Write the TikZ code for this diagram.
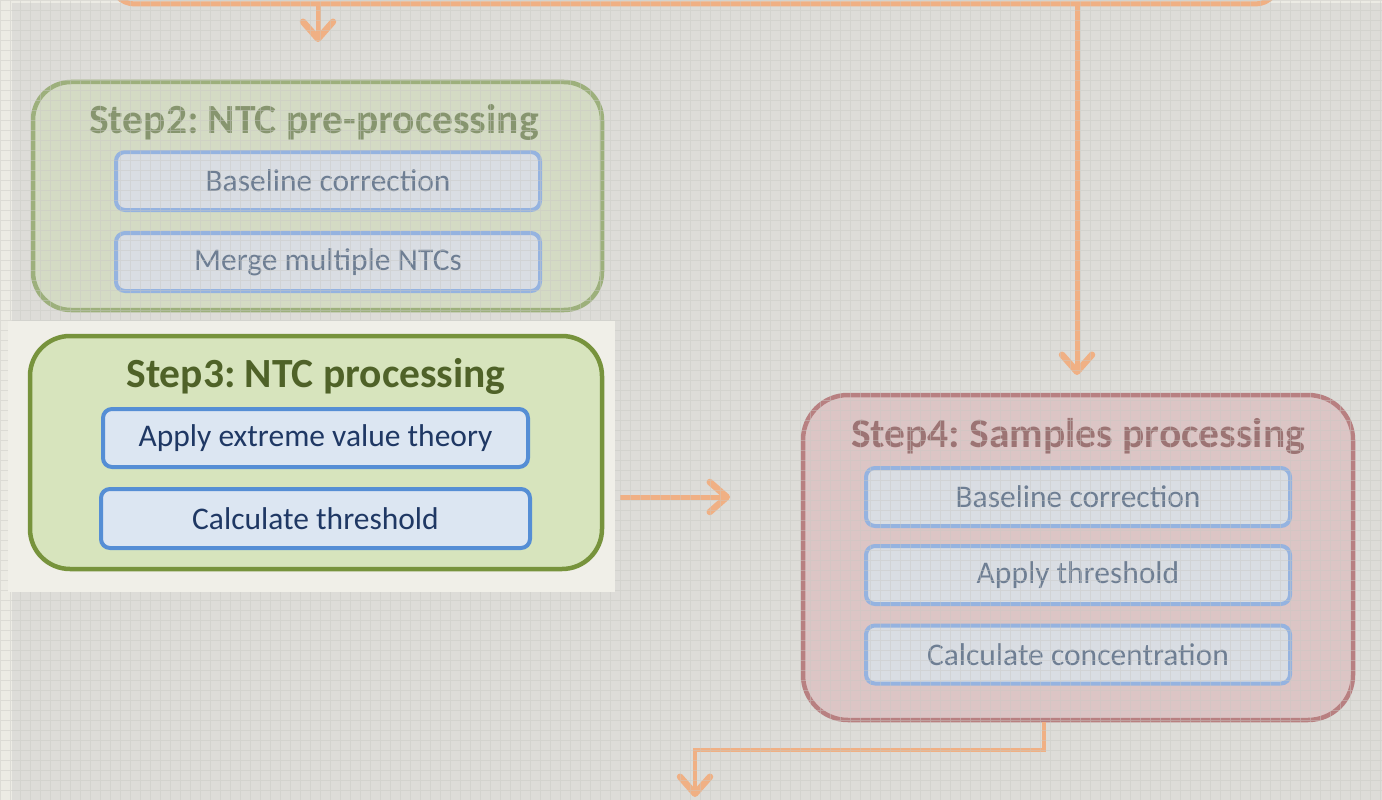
\documentclass[tikz,border=0pt]{standalone}
\usepackage{fontspec}
\setmainfont{Carlito}
\usetikzlibrary{arrows.meta}
\definecolor{bgcol}{HTML}{DDDCD8}
\definecolor{gridcol}{HTML}{C9C9C4}
\definecolor{stripcol}{HTML}{ECEBE4}
\definecolor{orangecol}{HTML}{F0B084}
\definecolor{gfill}{HTML}{D4DBC4}
\definecolor{gdraw}{HTML}{9DB07C}
\definecolor{gtext}{HTML}{87956F}
\definecolor{sfill}{HTML}{D9DDE3}
\definecolor{sdraw}{HTML}{95B3E0}
\definecolor{stext}{HTML}{6E7E93}
\definecolor{rfill}{HTML}{DCC5C5}
\definecolor{rdraw}{HTML}{B88081}
\definecolor{rtext}{HTML}{9C7474}
\definecolor{panelcol}{HTML}{F0EFE8}
\definecolor{hfill}{HTML}{D7E4BD}
\definecolor{hdraw}{HTML}{77933C}
\definecolor{htext}{HTML}{4F6228}
\definecolor{hsfill}{HTML}{DCE6F2}
\definecolor{hsdraw}{HTML}{558ED5}
\definecolor{hstext}{HTML}{1F3864}
\frenchspacing
\tikzset{
  bigbox/.style={draw, line width=4.5pt, rounded corners=38pt, inner sep=0pt},
  subbox/.style={draw, line width=4pt, rounded corners=9pt, inner sep=0pt,
     font=\fontsize{31.5}{34}\selectfont},
  titletext/.style={inner sep=0pt, anchor=base, font=\fontsize{41.5}{46}\selectfont\bfseries},
  conn/.style={draw=orangecol, line width=5pt},
  conntip/.style={conn, -{Straight Barb[length=17pt,width=30pt,line width=6.5pt,round]}},
}
\begin{document}
\begin{tikzpicture}[x=1pt,y=-1pt]
\useasboundingbox (0,0) rectangle (1382,800);
\fill[bgcol] (0,0) rectangle (1382,800);
\fill[stripcol] (0,0) rectangle (12,800);
\fill[stripcol] (0,0) rectangle (1382,3);

% top box (only its bottom edge visible)
\node[draw=orangecol, line width=5pt, rounded corners=25pt, fill=bgcol,
      minimum width=1170pt, minimum height=120pt, inner sep=0pt] (top) at (695,-56) {};

% Step2 (faded)
\node[bigbox, draw=gdraw, fill=gfill, minimum width=569pt, minimum height=228pt] (s2) at (317.5,196) {};
\node[titletext, text=gtext] (s2t) at (314,133) {Step2: NTC pre-processing};
\node[subbox, draw=sdraw, fill=sfill, text=stext, minimum width=424pt, minimum height=58pt] (s2a) at (328,181) {Baseline correction};
\node[subbox, draw=sdraw, fill=sfill, text=stext, minimum width=424pt, minimum height=58pt] (s2b) at (328,262) {Merge multiple NTCs};

% Step4 (faded)
\node[bigbox, draw=rdraw, fill=rfill, rounded corners=45pt, minimum width=550pt, minimum height=325pt] (s4) at (1078,557.5) {};
\node[titletext, text=rtext] (s4t) at (1078,447) {Step4: Samples processing};
\node[subbox, draw=sdraw, fill=sfill, text=stext, minimum width=424pt, minimum height=58pt] (s4a) at (1078,497) {Baseline correction};
\node[subbox, draw=sdraw, fill=sfill, text=stext, minimum width=424pt, minimum height=58pt] (s4b) at (1078,575) {Apply threshold};
\node[subbox, draw=sdraw, fill=sfill, text=stext, minimum width=424pt, minimum height=58pt] (s4c) at (1078,654.5) {Calculate concentration};

% connectors
\coordinate (a1) at (318,42);
\draw[conntip] (top.south -| a1) -- (a1);
\coordinate (a2) at (1077,375);
\draw[conntip] (top.south -| a2) -- (a2);
\coordinate (m1) at (620,497);
\coordinate (m2) at (730,497);
\draw[conntip] (m1) -- (m2);
\coordinate (b1) at (1044,750);
\coordinate (b2) at (695,750);
\coordinate (b3) at (695,797);
\draw[conntip, line width=4pt] (s4.south -| b1) -- (b1) -- (b2) -- (b3);

% grid overlay
\draw[gridcol, line width=0.7pt, opacity=0.45, step=10pt] (0,0) grid (1382,800);

% Step3 highlighted
\fill[panelcol] (8,321) rectangle (615,592);
\node[bigbox, draw=hdraw, fill=hfill, rounded corners=40pt, minimum width=572pt, minimum height=233pt] (s3) at (316,452.5) {};
\node[titletext, text=htext] (s3t) at (316,387) {Step3: NTC processing};
\node[subbox, draw=hsdraw, fill=hsfill, text=hstext, minimum width=425pt, minimum height=58pt] (s3a) at (315.5,438) {Apply extreme value theory};
\node[subbox, draw=hsdraw, fill=hsfill, text=hstext, minimum width=429pt, minimum height=59pt] (s3b) at (315.5,518.5) {Calculate threshold};
\end{tikzpicture}
\end{document}
